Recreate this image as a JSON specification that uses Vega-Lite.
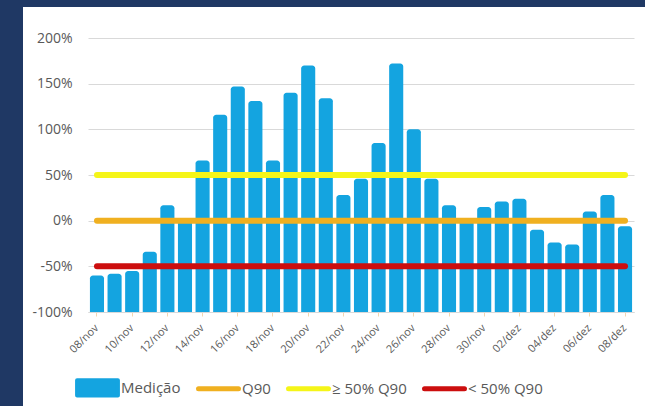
{
  "$schema": "https://vega.github.io/schema/vega-lite/v6.json",
  "background": "white",
  "padding": 0,
  "bounds": "flush",
  "spacing": 0,
  "config": {"view": {"stroke": null}, "font": "Open Sans"},
  "datasets": {
    "bars": [
      {"date": "08/nov", "series": "Medição", "value": -60},
      {"date": "09/nov", "series": "Medição", "value": -58},
      {"date": "10/nov", "series": "Medição", "value": -55},
      {"date": "11/nov", "series": "Medição", "value": -34},
      {"date": "12/nov", "series": "Medição", "value": 17},
      {"date": "13/nov", "series": "Medição", "value": 0},
      {"date": "14/nov", "series": "Medição", "value": 66},
      {"date": "15/nov", "series": "Medição", "value": 116},
      {"date": "16/nov", "series": "Medição", "value": 147},
      {"date": "17/nov", "series": "Medição", "value": 131},
      {"date": "18/nov", "series": "Medição", "value": 66},
      {"date": "19/nov", "series": "Medição", "value": 140},
      {"date": "20/nov", "series": "Medição", "value": 170},
      {"date": "21/nov", "series": "Medição", "value": 134},
      {"date": "22/nov", "series": "Medição", "value": 28},
      {"date": "23/nov", "series": "Medição", "value": 46},
      {"date": "24/nov", "series": "Medição", "value": 85},
      {"date": "25/nov", "series": "Medição", "value": 172},
      {"date": "26/nov", "series": "Medição", "value": 100},
      {"date": "27/nov", "series": "Medição", "value": 46},
      {"date": "28/nov", "series": "Medição", "value": 17},
      {"date": "29/nov", "series": "Medição", "value": 0},
      {"date": "30/nov", "series": "Medição", "value": 15},
      {"date": "01/dez", "series": "Medição", "value": 21},
      {"date": "02/dez", "series": "Medição", "value": 24},
      {"date": "03/dez", "series": "Medição", "value": -10},
      {"date": "04/dez", "series": "Medição", "value": -24},
      {"date": "05/dez", "series": "Medição", "value": -26},
      {"date": "06/dez", "series": "Medição", "value": 10},
      {"date": "07/dez", "series": "Medição", "value": 28},
      {"date": "08/dez", "series": "Medição", "value": -6}
    ],
    "lines": [
      {"date": "08/nov", "series": "Q90", "value": 0},
      {"date": "08/dez", "series": "Q90", "value": 0},
      {"date": "08/nov", "series": "≥ 50% Q90", "value": 50},
      {"date": "08/dez", "series": "≥ 50% Q90", "value": 50},
      {"date": "08/nov", "series": "< 50% Q90", "value": -50},
      {"date": "08/dez", "series": "< 50% Q90", "value": -50}
    ]
  },
  "vconcat": [
    {"width": 645, "height": 7, "data": {"values": []}, "mark": "rect", "view": {"fill": "#1f3864"}},
    {
      "bounds": "flush",
      "spacing": 65,
      "hconcat": [
        {"width": 23, "height": 399, "data": {"values": []}, "mark": "rect", "view": {"fill": "#1f3864"}},
        {
          "bounds": "flush",
          "spacing": 30,
          "vconcat": [
            {"width": 546, "height": 1, "data": {"values": []}, "mark": "rect"},
            {
              "width": 546,
              "height": 274,
              "layer": [
                {
                  "data": {"name": "bars"},
                  "mark": {"type": "bar", "cornerRadiusTopLeft": 3, "cornerRadiusTopRight": 3},
                  "encoding": {
                    "x": {
                      "field": "date", "type": "nominal",
                      "scale": {
                        "domain": ["08/nov","09/nov","10/nov","11/nov","12/nov","13/nov","14/nov","15/nov","16/nov","17/nov","18/nov","19/nov","20/nov","21/nov","22/nov","23/nov","24/nov","25/nov","26/nov","27/nov","28/nov","29/nov","30/nov","01/dez","02/dez","03/dez","04/dez","05/dez","06/dez","07/dez","08/dez"],
                        "paddingInner": 0.2, "paddingOuter": 0.11
                      },
                      "axis": {
                        "title": null,
                        "values": ["08/nov","10/nov","12/nov","14/nov","16/nov","18/nov","20/nov","22/nov","24/nov","26/nov","28/nov","30/nov","02/dez","04/dez","06/dez","08/dez"],
                        "labelAngle": -45, "labelAlign": "right", "labelBaseline": "middle",
                        "labelFontSize": 11, "labelColor": "#595959", "labelPadding": 10,
                        "domainColor": "#d9d9d9", "tickColor": "#f2d6b0", "tickSize": 4, "grid": false
                      }
                    },
                    "y": {
                      "field": "value", "type": "quantitative",
                      "scale": {"domain": [-100, 200], "nice": false},
                      "axis": {
                        "title": null,
                        "values": [-100, -50, 0, 50, 100, 150, 200],
                        "labelExpr": "datum.value + '%'",
                        "labelFontSize": 14, "labelColor": "#595959", "labelPadding": 16,
                        "domain": false, "ticks": false, "grid": true, "gridColor": "#d9d9d9"
                      }
                    },
                    "y2": {"datum": -100},
                    "color": {
                      "field": "series", "type": "nominal",
                      "scale": {
                        "domain": ["Medição", "Q90", "≥ 50% Q90", "< 50% Q90"],
                        "range": ["#14a4e0", "#f0b020", "#f5f518", "#cc0e0e"]
                      },
                      "legend": {
                        "title": null,
                        "orient": "none",
                        "direction": "horizontal",
                        "legendX": 90,
                        "legendY": 380,
                        "padding": 0,
                        "symbolSize": 1849,
                        "labelFontSize": 15,
                        "labelColor": "#595959",
                        "labelOffset": 16,
                        "columnPadding": 15,
                        "encode": {
                          "symbols": {
                            "update": {
                              "shape": {"signal": "datum.value === 'Medição' ? 'M-0.95,-0.36H0.95V0.36H-0.95Z' : 'M-0.93,0H0.93'"},
                              "fill": {"signal": "datum.value === 'Medição' ? '#14a4e0' : 'transparent'"},
                              "stroke": {"signal": "datum.value === 'Medição' ? '#14a4e0' : datum.value === 'Q90' ? '#f0b020' : datum.value === '≥ 50% Q90' ? '#f5f518' : '#cc0e0e'"},
                              "strokeWidth": {"signal": "datum.value === 'Medição' ? 4 : 5"},
                              "strokeCap": {"value": "round"},
                              "strokeJoin": {"value": "round"},
                              "opacity": {"value": 1}
                            }
                          }
                        }
                      }
                    }
                  }
                },
                {
                  "data": {"name": "lines"},
                  "mark": {"type": "line", "strokeWidth": 6, "strokeCap": "round"},
                  "encoding": {
                    "x": {"field": "date", "type": "nominal"},
                    "y": {"field": "value", "type": "quantitative"},
                    "color": {"field": "series", "type": "nominal"}
                  }
                }
              ]
            }
          ]
        }
      ]
    }
  ]
}
